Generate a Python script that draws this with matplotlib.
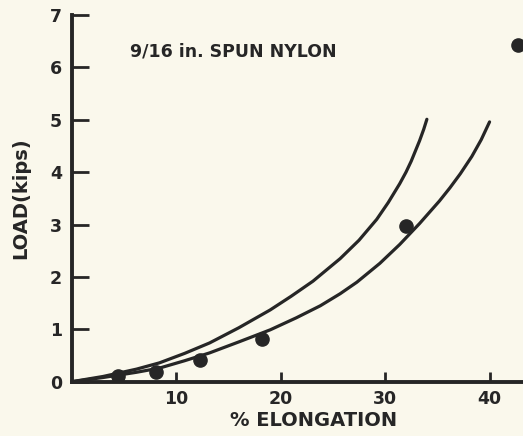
import numpy as np
import matplotlib.pyplot as plt

# measured load vs elongation, 9/16 in. spun nylon
elong_pts = [4.4, 8.1, 12.3, 18.2, 32.0, 42.7]
load_pts = [0.10, 0.19, 0.41, 0.81, 2.98, 6.43]

# upper bounding curve
upper_x = [0, 3.0, 6.2, 8.4, 10.8, 13.2, 16.0, 19.0, 21.0, 23.1, 25.7, 27.5,
           29.2, 30.3, 31.4, 32.0, 32.5, 33.3, 33.7, 34.0]
upper_y = [0, 0.10, 0.24, 0.36, 0.54, 0.74, 1.03, 1.37, 1.63, 1.92, 2.35, 2.70,
           3.10, 3.42, 3.78, 4.00, 4.21, 4.60, 4.82, 5.01]

# lower bounding curve
lower_x = [0, 3.0, 6.2, 8.4, 10.8, 13.2, 16.0, 19.0, 21.5, 23.8, 25.7, 27.3,
           29.5, 31.4, 33.3, 35.2, 36.2, 37.2, 38.3, 39.2, 40.0]
lower_y = [0, 0.08, 0.18, 0.26, 0.40, 0.55, 0.76, 0.99, 1.22, 1.45, 1.68, 1.90,
           2.26, 2.62, 3.02, 3.45, 3.70, 3.97, 4.30, 4.62, 4.96]

xticks = [10, 20, 30, 40]
yticks = [0, 1, 2, 3, 4, 5, 6, 7]

bg = '#faf8ec'
ink = '#262626'

fig = plt.figure(figsize=(5.23, 4.36), dpi=100, facecolor=bg)
ax = fig.add_axes([0.137, 0.1245, 0.863, 0.841], facecolor=bg)

ax.plot(upper_x, upper_y, color=ink, lw=2.3, solid_capstyle='round',
        solid_joinstyle='round')
ax.plot(lower_x, lower_y, color=ink, lw=2.3, solid_capstyle='round',
        solid_joinstyle='round')
ax.plot(elong_pts, load_pts, 'o', color=ink, ms=9.5)

ax.set_xlim(0, 43.2)
ax.set_ylim(0, 7)

for s in ['top', 'right']:
    ax.spines[s].set_visible(False)
for s in ['left', 'bottom']:
    ax.spines[s].set_linewidth(2.8)
    ax.spines[s].set_color(ink)

ax.set_xticks(xticks)
ax.set_yticks(yticks)
ax.set_xticklabels([str(t) for t in xticks], fontsize=12.5, fontweight='bold', color=ink)
ax.set_yticklabels([str(t) for t in yticks], fontsize=12.5, fontweight='bold', color=ink)
ax.tick_params(axis='y', direction='in', length=12, width=2, pad=7, colors=ink)
ax.tick_params(axis='x', direction='in', length=7, width=2, pad=6, colors=ink)

ax.set_xlabel('% ELONGATION', fontsize=14, fontweight='bold', color=ink,
              x=0.535, labelpad=2)
ax.set_ylabel('LOAD(kips)', fontsize=14, fontweight='bold', color=ink, labelpad=14)

ax.text(5.6, 6.31, '9/16 in. SPUN NYLON', fontsize=12.5, fontweight='bold',
        color=ink, va='center', ha='left')

plt.savefig('out.png', dpi=100, facecolor=bg)
